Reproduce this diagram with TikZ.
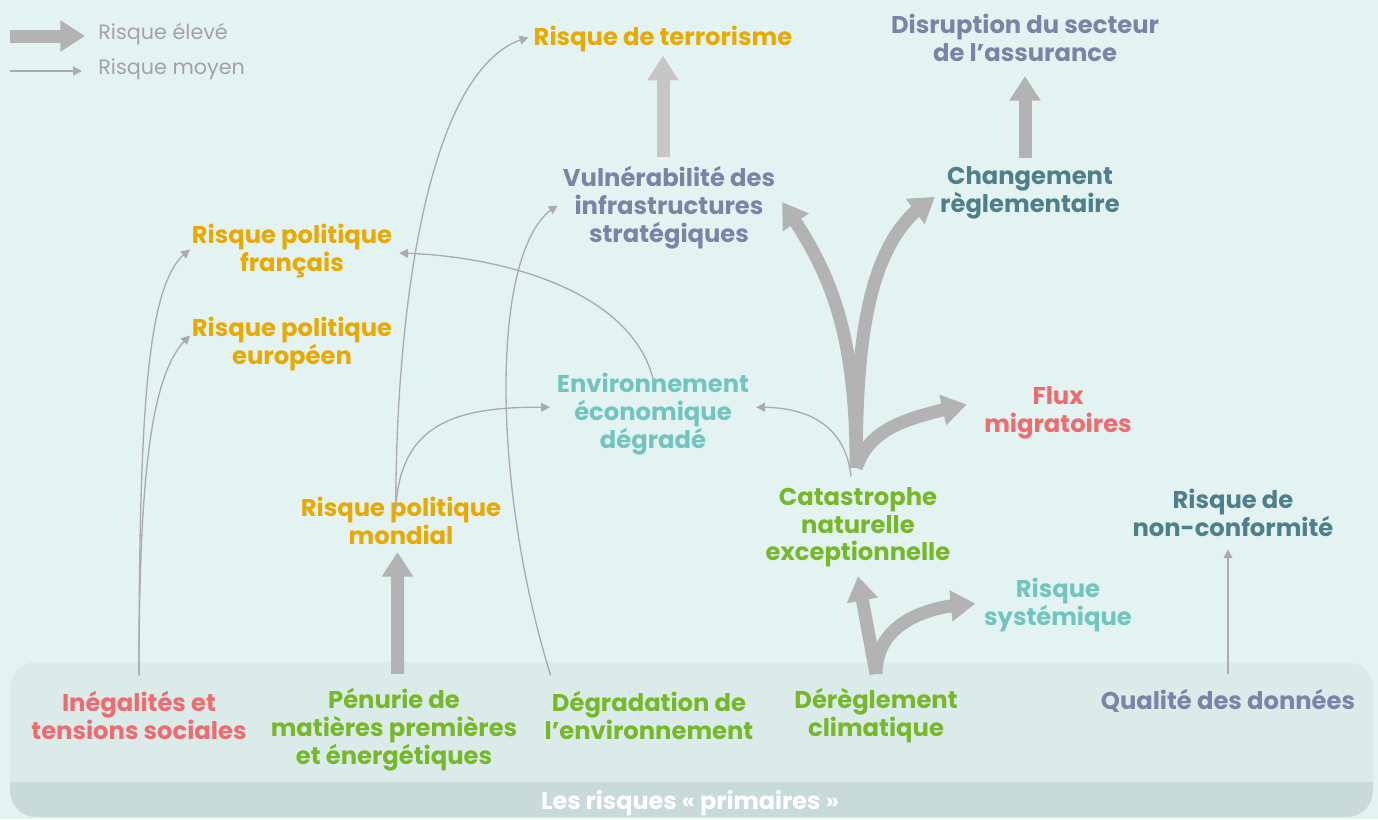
\documentclass[tikz,border=0pt]{standalone}
\usepackage{fontspec}
\setmainfont{Poppins}
\usetikzlibrary{arrows.meta,bending}
\definecolor{bgteal}{HTML}{E3F3F2}
\definecolor{bandteal}{HTML}{DAEBEA}
\definecolor{stripteal}{HTML}{C9DBD9}
\definecolor{arrowgrey}{HTML}{B3B3B3}
\definecolor{paleGrey}{HTML}{C6C6C6}
\definecolor{thinGrey}{HTML}{ABABAB}
\definecolor{legendGrey}{HTML}{A3A3A3}
\definecolor{riskYellow}{HTML}{E8A900}
\definecolor{riskSlate}{HTML}{7B84A6}
\definecolor{riskDark}{HTML}{4F7F8A}
\definecolor{riskLight}{HTML}{72C5BF}
\definecolor{riskRed}{HTML}{EE6B6F}
\definecolor{riskGreen}{HTML}{77B82B}

\begin{document}
\begin{tikzpicture}[
    x=0.02cm, y=-0.02cm,
    risk/.style={align=center, inner sep=0pt, outer sep=0pt, yshift=-1.3pt,
      font=\fontsize{13.8}{15.9}\selectfont\bfseries},
    hi/.style={draw=arrowgrey, line width=7.4pt,
      -{Triangle[length=14pt,width=17pt]}},
    mid/.style={draw=thinGrey, line width=0.75pt,
      -{Triangle[length=5pt,width=5pt]}},
    legend/.style={anchor=west, inner sep=0pt, text=legendGrey,
      font=\fontsize{11.8}{13}\selectfont},
  ]
  \useasboundingbox (0,0) rectangle (1378,819);
  \fill[bgteal] (0,0) rectangle (1378,819);

  % ================= band of primary risks
  \fill[bandteal, rounded corners=15pt] (10,662) rectangle (1373,817);
  \begin{scope}
    \clip[rounded corners=15pt] (10,662) rectangle (1373,817);
    \fill[stripteal] (10,782) rectangle (1373,817);
  \end{scope}
  \node[text=white, inner sep=0pt, font=\fontsize{13.6}{15}\selectfont\bfseries]
    (primaires) at (690,803) {Les risques « primaires »};

  % ================= legend
  \coordinate (hiA) at (10,36);
  \coordinate (hiB) at (85,36);
  \coordinate (midA) at (10,71);
  \coordinate (midB) at (82,71);
  \draw[hi] (hiA) -- (hiB);
  \draw[mid] (midA) -- (midB);
  \node[legend] (lgHi) at (98,34) {Risque élevé};
  \node[legend] (lgMid) at (98,69) {Risque moyen};

  % ================= primary risks
  \node[risk, text=riskRed] (ineg) at (139,713) {Inégalités et\\tensions sociales};
  \node[risk, text=riskGreen] (penurie) at (394,727) {Pénurie de\\matières premières\\et énergétiques};
  \node[risk, text=riskGreen] (degr) at (649,713) {Dégradation de\\l’environnement};
  \node[risk, text=riskGreen] (dereg) at (876,713) {Dérèglement\\climatique};
  \node[risk, text=riskSlate] (qual) at (1228,699) {Qualité des données};

  % ================= consequences
  \node[risk, text=riskYellow] (terror) at (663,37) {Risque de terrorisme};
  \node[risk, text=riskSlate] (disrupt) at (1025,36) {Disruption du secteur\\de l’assurance};
  \node[risk, text=riskSlate] (vuln) at (669,205) {Vulnérabilité des\\infrastructures\\stratégiques};
  \node[risk, text=riskDark] (change) at (1030,191) {Changement\\règlementaire};
  \node[risk, text=riskYellow] (rpf) at (292,249) {Risque politique\\français};
  \node[risk, text=riskYellow] (rpe) at (292,342) {Risque politique\\européen};
  \node[risk, text=riskLight] (envi) at (653,412) {Environnement\\économique\\dégradé};
  \node[risk, text=riskRed] (flux) at (1058,411) {Flux\\migratoires};
  \node[risk, text=riskYellow] (rpm) at (401,519) {Risque politique\\mondial};
  \node[risk, text=riskGreen] (cata) at (858,525) {Catastrophe\\naturelle\\exceptionnelle};
  \node[risk, text=riskDark] (nonconf) at (1233,511) {Risque de\\non-conformité};
  \node[risk, text=riskLight] (syst) at (1058,603) {Risque\\systémique};

  % ================= high risk links
  \draw[hi] ([xshift=2pt,yshift=8pt]penurie.north) -- ([xshift=-2pt,yshift=-4pt]rpm.south);
  \draw[hi, draw=paleGrey] ([yshift=5pt]vuln.north -| terror.south) -- ([yshift=-2pt]terror.south);
  \draw[hi] ([yshift=5pt]change.north -| disrupt.south) -- ([yshift=-8pt]disrupt.south);
  \draw[hi] ([yshift=8pt]dereg.north) -- ([yshift=-5pt]cata.south);
  \draw[hi] ([yshift=8pt]dereg.north) .. controls (876,630) and (915,606) .. ([xshift=-5pt,yshift=1pt]syst.west);
  \draw[hi] ([xshift=-1pt,yshift=11pt]cata.north) .. controls (856,330) and (830,270) .. ([xshift=4pt,yshift=3pt]vuln.east);
  \draw[hi] ([xshift=-1pt,yshift=11pt]cata.north) .. controls (856,330) and (870,235) .. ([xshift=-3pt,yshift=-2pt]change.west);
  \draw[hi] ([xshift=-1pt,yshift=11pt]cata.north) .. controls (870,428) and (905,418) .. ([xshift=-10pt,yshift=5pt]flux.west);

  % ================= medium risk links
  \draw[mid] ([yshift=9pt]ineg.north) .. controls (139,380) and (150,275) .. ([xshift=-1pt,yshift=1pt]rpf.west);
  \draw[mid] ([yshift=9pt]ineg.north) .. controls (139,450) and (155,365) .. ([xshift=-1pt,yshift=5pt]rpe.west);
  \draw[mid] ([xshift=-3pt,yshift=-7pt]rpm.north) .. controls (396,300) and (430,60) .. ([xshift=-3pt,yshift=1pt]terror.west);
  \draw[mid] ([xshift=-3pt,yshift=-7pt]rpm.north) .. controls (400,420) and (460,406) .. ([xshift=-4pt,yshift=4pt]envi.west);
  \draw[mid] ([yshift=-3pt]envi.north) .. controls (630,290) and (500,255) .. ([xshift=4pt,yshift=-1pt]rpf.east);
  \draw[mid] ([xshift=-56pt,yshift=9pt]degr.north) .. controls (490,480) and (490,240) .. ([xshift=-3pt,yshift=1pt]vuln.west);
  \draw[mid] ([xshift=-4pt,yshift=6pt]cata.north) .. controls (845,420) and (800,406) .. ([xshift=4pt,yshift=4pt]envi.east);
  \draw[mid] ([yshift=9pt]qual.north) -- ([yshift=-7pt]qual.north |- nonconf.south);
\end{tikzpicture}
\end{document}
